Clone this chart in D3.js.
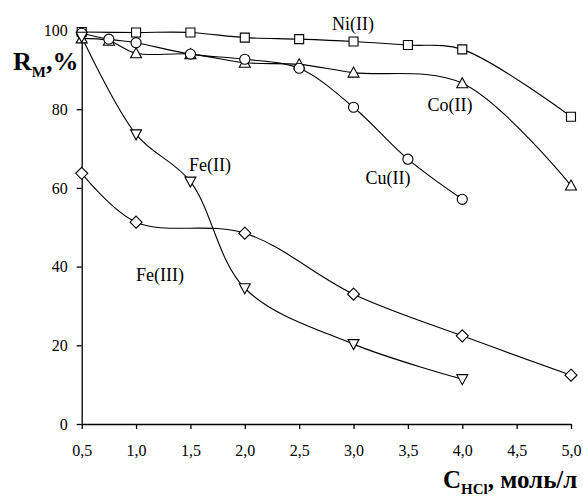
<!DOCTYPE html>
<html>
<head>
<meta charset="utf-8">
<script src="https://cdn.jsdelivr.net/npm/d3@7"></script>
<style>
  html, body { margin: 0; padding: 0; background: #fff; }
  svg { display: block; }
  text { font-family: "Liberation Serif", "Times New Roman", serif; fill: #000; }
</style>
</head>
<body>
<svg id="chart" width="583" height="498"></svg>
<script>
// HCl concentration, mol/L
const niX = [0.5, 1.0, 1.5, 2.0, 2.5, 3.0, 3.5, 4.0, 5.0];
const niY = [99.6, 99.5, 99.5, 98.2, 97.8, 97.2, 96.3, 95.2, 78.1];

const coX = [0.5, 0.75, 1.0, 1.5, 2.0, 2.5, 3.0, 4.0, 5.0];
const coY = [98.0, 97.4, 94.2, 94.0, 91.8, 91.4, 89.3, 86.6, 60.6];

const cuX = [0.5, 0.75, 1.0, 1.5, 2.0, 2.5, 3.0, 3.5, 4.0];
const cuY = [99.3, 97.8, 96.9, 94.0, 92.7, 90.4, 80.5, 67.3, 57.1];

const fe2X = [0.5, 1.0, 1.5, 2.0, 3.0, 4.0];
const fe2Y = [98.4, 73.6, 61.6, 34.5, 20.3, 11.4];

const fe3X = [0.5, 1.0, 2.0, 3.0, 4.0, 5.0];
const fe3Y = [63.7, 51.3, 48.5, 33.0, 22.4, 12.4];

const xTicks = [0.5, 1.0, 1.5, 2.0, 2.5, 3.0, 3.5, 4.0, 4.5, 5.0];
const yTicks = [0, 20, 40, 60, 80, 100];

const svg = d3.select("#chart");
const x = d3.scaleLinear().domain([0.5, 5.0]).range([81.7, 571]);
const y = d3.scaleLinear().domain([0, 100]).range([424, 30.5]);

const fmt = d => d.toFixed(1).replace(".", ",");

// axes
const xAxis = svg.append("g").attr("transform", `translate(0,${y(0)})`)
  .call(d3.axisBottom(x).tickValues(xTicks).tickFormat(fmt).tickSizeInner(5).tickSizeOuter(0).tickPadding(16));
const yAxis = svg.append("g").attr("transform", `translate(${x(0.5)},0)`)
  .call(d3.axisLeft(y).tickValues(yTicks).tickFormat(d3.format("d")).tickSizeInner(5).tickSizeOuter(0).tickPadding(9));
[xAxis, yAxis].forEach(g => {
  g.selectAll("path, line").attr("stroke", "#000").attr("stroke-width", 1.3);
  g.selectAll("text").attr("font-size", 16).attr("font-family", "Liberation Serif");
});

const line = d3.line().x(d => x(d[0])).y(d => y(d[1])).curve(d3.curveCatmullRom.alpha(0.5));

const series = [
  { xs: niX, ys: niY, marker: "square" },
  { xs: coX, ys: coY, marker: "triangle" },
  { xs: cuX, ys: cuY, marker: "circle" },
  { xs: fe2X, ys: fe2Y, marker: "down" },
  { xs: fe3X, ys: fe3Y, marker: "diamond" }
];

const symbolPath = {
  square: "M-4.5,-4.5H4.5V4.5H-4.5Z",
  triangle: "M0,-5.5L5.5,4.5H-5.5Z",
  down: "M0,5.5L5.5,-4.5H-5.5Z",
  diamond: "M0,-6L6,0L0,6L-6,0Z",
  circle: d3.symbol(d3.symbolCircle, 80)()
};

series.forEach(s => {
  const pts = s.xs.map((v, i) => [v, s.ys[i]]);
  svg.append("path").datum(pts).attr("d", line)
    .attr("fill", "none").attr("stroke", "#000").attr("stroke-width", 1.1);
});
series.forEach(s => {
  const pts = s.xs.map((v, i) => [v, s.ys[i]]);
  svg.append("g").selectAll("path").data(pts).join("path")
    .attr("transform", d => `translate(${x(d[0])},${y(d[1])})`)
    .attr("d", symbolPath[s.marker])
    .attr("fill", "#fff").attr("stroke", "#000").attr("stroke-width", 1.1);
});

// series labels
const labels = [
  { t: "Ni(II)", cx: 353, cy: 30 },
  { t: "Co(II)", cx: 450, cy: 111 },
  { t: "Cu(II)", cx: 388, cy: 184 },
  { t: "Fe(II)", cx: 210, cy: 171 },
  { t: "Fe(III)", cx: 160, cy: 281 }
];
svg.append("g").selectAll("text").data(labels).join("text")
  .attr("x", d => d.cx).attr("y", d => d.cy)
  .attr("text-anchor", "middle").attr("font-size", 18)
  .text(d => d.t);

// axis titles
const yt = svg.append("text").attr("x", 13).attr("y", 70)
  .attr("font-size", 26).attr("font-weight", "bold");
yt.append("tspan").text("R");
yt.append("tspan").attr("font-size", 15).attr("dy", 7).text("M");
yt.append("tspan").attr("dy", -7).text(",%");

const xt = svg.append("text").attr("x", 443).attr("y", 488)
  .attr("font-size", 25).attr("font-weight", "bold");
xt.append("tspan").text("C");
xt.append("tspan").attr("font-size", 15).attr("dy", 6).text("HCl");
xt.append("tspan").attr("dy", -6).text(", моль/л");
</script>
</body>
</html>
